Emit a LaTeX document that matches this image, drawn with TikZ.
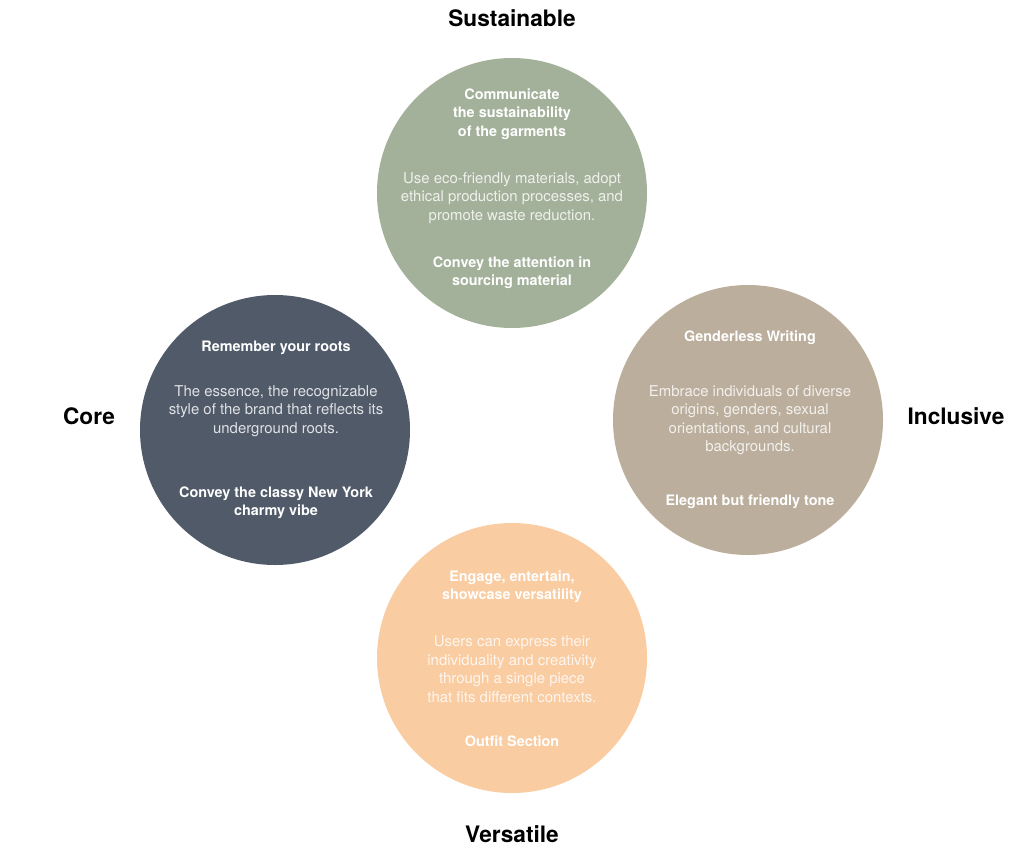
\documentclass[tikz,border=0pt]{standalone}
\usepackage{fontspec}
\setmainfont{TeX Gyre Heros}
\definecolor{sage}{RGB}{163,176,154}
\definecolor{slate}{RGB}{80,90,105}
\definecolor{taupe}{RGB}{187,174,156}
\definecolor{peach}{RGB}{249,204,162}
\tikzset{every picture/.style={line width=0.75pt}}
\tikzset{
  disc/.style={circle,draw=none,minimum size=270*0.75pt,inner sep=0pt},
  headtxt/.style={text=white,align=center,inner sep=0.75pt,font=\fontsize{10.8}{13.8}\selectfont\bfseries},
  bodytxt/.style={text=white,text opacity=0.82,align=center,inner sep=0.75pt,font=\fontsize{11.2}{13.9}\selectfont},
  outlabel/.style={text=black,inner sep=0.75pt,font=\fontsize{17}{19}\selectfont\bfseries}
}

\begin{document}
\begin{tikzpicture}[x=0.75pt,y=0.75pt,yscale=-1,xscale=1]
\useasboundingbox (0,0) rectangle (1024,853);

% Circles
\node [disc,fill=sage] (sust) at (512,193) {};
\node [disc,fill=slate] (core) at (275,430) {};
\node [disc,fill=taupe] (incl) at (748,420) {};
\node [disc,fill=peach] (vers) at (512,658) {};

% Sustainable
\node [headtxt] (sust-head) at (512,114) {Communicate\\the sustainability\\of the garments};
\node [bodytxt] (sust-body) at (512,198) {Use eco-friendly materials, adopt\\ethical production processes, and\\promote waste reduction.};
\node [headtxt] (sust-foot) at (512,273) {Convey the attention in\\sourcing material};

% Core
\node [headtxt] (core-head) at (276,348) {Remember your roots};
\node [bodytxt] (core-body) at (276,411) {The essence, the recognizable\\style of the brand that reflects its\\underground roots.};
\node [headtxt] (core-foot) at (276,503) {Convey the classy New York\\charmy vibe};

% Inclusive
\node [headtxt] (incl-head) at (750,338) {Genderless Writing};
\node [bodytxt] (incl-body) at (750,420) {Embrace individuals of diverse\\origins, genders, sexual\\orientations, and cultural\\backgrounds.};
\node [headtxt] (incl-foot) at (750,502) {Elegant but friendly tone};

% Versatile
\node [headtxt] (vers-head) at (512,587) {Engage, entertain,\\showcase versatility};
\node [bodytxt] (vers-body) at (512,669) {Users can express their\\individuality and creativity\\through a single piece\\that fits different contexts.};
\node [headtxt] (vers-foot) at (512,741) {Outfit Section};

% Outer labels
\node [outlabel] (sust-lbl) at (512,18) {Sustainable};
\node [outlabel] (core-lbl) at (89,416) {Core};
\node [outlabel] (incl-lbl) at (956,416) {Inclusive};
\node [outlabel] (vers-lbl) at (512,834) {Versatile};

\end{tikzpicture}
\end{document}
